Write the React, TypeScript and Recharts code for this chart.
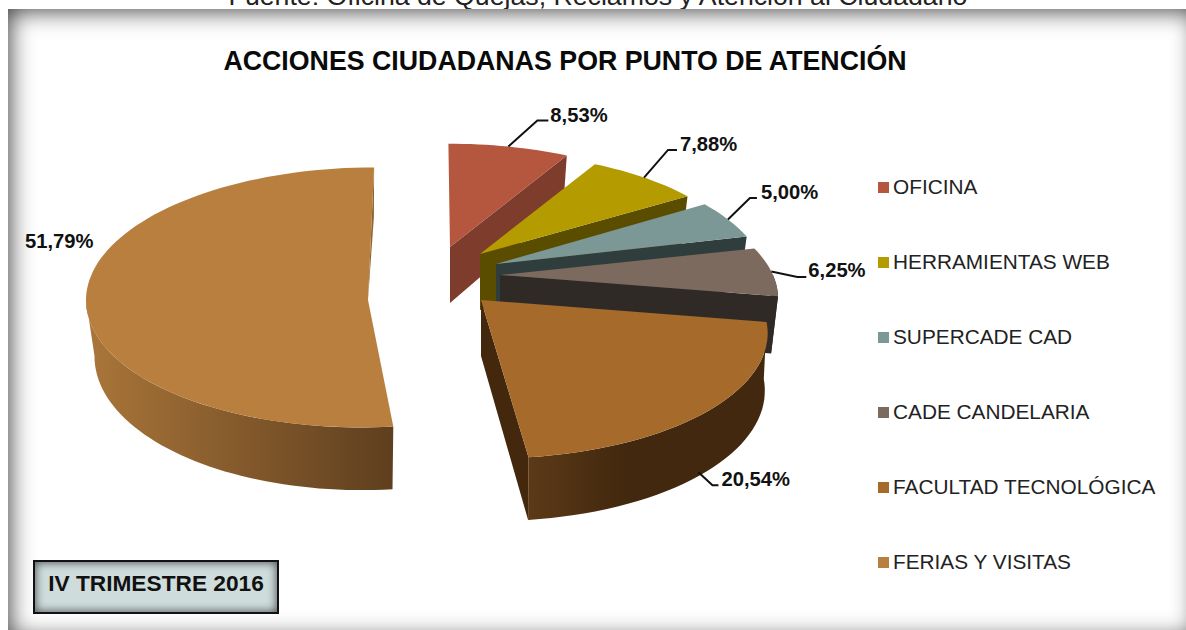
import React from "react";
import { PieChart, Pie, Legend } from "recharts";

const categories = ["OFICINA", "HERRAMIENTAS WEB", "SUPERCADE CAD", "CADE CANDELARIA", "FACULTAD TECNOLÓGICA", "FERIAS Y VISITAS"];
const shares = [8.53, 7.88, 5.0, 6.25, 20.54, 51.79];
const shareLabels = ["8,53%", "7,88%", "5,00%", "6,25%", "20,54%", "51,79%"];
const topColours = ["#b5563e", "#b39b00", "#7c9896", "#7d6a5f", "#a66b2a", "#b87f3f"];
const sideColours = ["#7e3c2d", "#5a4d00", "#2f3d3d", "#302a26", "#43280e", "#8d6331"];
const wallStops = [
  ["#7e3c2d", "#7e3c2d"],
  ["#5a4d00", "#5a4d00"],
  ["#2f3d3d", "#2f3d3d"],
  ["#302a26", "#302a26"],
  ["#5c3a18", "#42280e"],
  ["#a97539", "#5f3f1f"],
];

// Where each exploded slice sits and how its disc is foreshortened.
const slicePlacement = [
  { ax: 450, ay: 247, rx: 274, ry: 126, taper: 0.18, shear: -2, floorScale: 0.97, wx0: 0, wx1: 1 },
  { ax: 480, ay: 254, rx: 267, ry: 124, taper: 0.183, shear: 0, floorScale: 0.97, wx0: 0, wx1: 1 },
  { ax: 496, ay: 264, rx: 268, ry: 128, taper: 0.18, shear: 0, floorScale: 0.97, wx0: 0, wx1: 1 },
  { ax: 500, ay: 275, rx: 273, ry: 124, taper: 0.197, shear: 0, floorScale: 0.975, wx0: 0, wx1: 1 },
  { ax: 481, ay: 300, rx: 277, ry: 127, taper: 0.248, shear: -7, floorScale: 0.99, wx0: 527, wx1: 625 },
  { ax: 368, ay: 300, rx: 282, ry: 130, taper: -0.02, shear: 6, floorScale: 0.97, wx0: 90, wx1: 390 },
];

// Leader geometry relative to the slice rim; the last slice has a free-standing label.
const labelPlacement = [
  { startX: 0, startY: 0, elbowX: 29, elbowY: -26, endX: 40, textX: 42, textY: -32, useWall: false },
  { startX: 0, startY: 0, elbowX: 24, elbowY: -27.6, endX: 33, textX: 36, textY: -34, useWall: false },
  { startX: 0, startY: 0, elbowX: 22, elbowY: -21.5, endX: 29, textX: 33, textY: -27.5, useWall: false },
  { startX: 0, startY: 0, elbowX: 26, elbowY: 5.5, endX: 35, textX: 37, textY: -1.5, useWall: false },
  { startX: -11, startY: 2.5, elbowX: 3, elbowY: 15.5, endX: 9, textX: 12, textY: 9, useWall: true },
  { startX: 0, startY: 0, elbowX: 0, elbowY: 0, endX: 0, textX: 0, textY: 0, useWall: false, freeX: 25, freeY: 241 },
];

const DISC_DEPTH = 56;
const DEPTH_TAPER = 0.12;
const LABEL_FONT = "'Liberation Sans', Arial, sans-serif";

const rows = categories.map((name, i) => ({ name, value: shares[i], fill: topColours[i] }));

type Placement = (typeof slicePlacement)[number];

const rad = (deg: number) => (deg * Math.PI) / 180;

function rimPoint(p: Placement, clock: number, floor: boolean): [number, number] {
  const s = Math.sin(rad(clock));
  const c = Math.cos(rad(clock));
  const f = 1 - p.taper * c;
  const x = p.ax + (p.rx * s + p.shear * c) * f * (floor ? p.floorScale : 1);
  const y = p.ay - p.ry * c * f + (floor ? DISC_DEPTH * (1 - DEPTH_TAPER * c) : 0);
  return [x, y];
}

function arcPoints(p: Placement, from: number, to: number, floor: boolean) {
  const pts: [number, number][] = [];
  const steps = Math.max(2, Math.ceil(Math.abs(to - from) / 2));
  for (let i = 0; i <= steps; i++) pts.push(rimPoint(p, from + ((to - from) * i) / steps, floor));
  return pts;
}

const toPath = (pts: [number, number][]) =>
  "M" + pts.map(([x, y]) => `${x.toFixed(1)},${y.toFixed(1)}`).join("L") + "Z";

// Draws one exploded slice as a solid: outer wall, cut face, then the top.
function SolidSlice(props: any) {
  const i = categories.indexOf(props.payload?.name ?? props.name);
  const p = slicePlacement[i];
  const from = 90 - props.startAngle;
  const to = 90 - props.endAngle;
  const apex: [number, number] = [p.ax, p.ay];
  const apexFloor: [number, number] = [p.ax, p.ay + DISC_DEPTH];
  const wallFrom = Math.max(from, 90);
  const wallTo = Math.min(to, 270);
  const hasWall = wallTo > wallFrom;
  const gradId = `wall-${i}`;
  const endTop = rimPoint(p, to, false);
  const endFloor = rimPoint(p, to, true);
  const cutFace: [number, number][] =
    to > 270 ? [apex, endTop, endFloor] : [apex, endTop, endFloor, apexFloor];
  return (
    <g>
      <defs>
        <linearGradient id={gradId} gradientUnits="userSpaceOnUse" x1={p.wx0} x2={p.wx1} y1={0} y2={0}>
          <stop offset="0" stopColor={wallStops[i][0]} />
          <stop offset="1" stopColor={wallStops[i][1]} />
        </linearGradient>
      </defs>
      {hasWall && (
        <path
          d={toPath([...arcPoints(p, wallFrom, wallTo, false), ...arcPoints(p, wallTo, wallFrom, true)])}
          fill={`url(#${gradId})`}
        />
      )}
      <path d={toPath(cutFace)} fill={sideColours[i]} />
      <path d={toPath([apex, ...arcPoints(p, from, to, false)])} fill={topColours[i]} />
    </g>
  );
}

function SliceLabel(props: any) {
  const i = categories.indexOf(props.name ?? props.payload?.name);
  const p = slicePlacement[i];
  const l = labelPlacement[i];
  const textStyle = { fontFamily: LABEL_FONT, fontWeight: 700, fontSize: 20.2, fill: "#111" };
  if (l.freeX !== undefined) {
    return (
      <text x={l.freeX} y={l.freeY} dominantBaseline="central" style={textStyle}>
        {shareLabels[i]}
      </text>
    );
  }
  const [x, y] = rimPoint(p, 90 - props.midAngle, l.useWall);
  const d = `M${x + l.startX},${y + l.startY}L${x + l.elbowX},${y + l.elbowY}L${x + l.endX},${y + l.elbowY}`;
  return (
    <g>
      <path d={d} fill="none" stroke="#111" strokeWidth={2} />
      <text x={x + l.textX} y={y + l.textY} dominantBaseline="central" style={textStyle}>
        {shareLabels[i]}
      </text>
    </g>
  );
}

function LegendList({ payload }: any) {
  return (
    <div style={{ position: "relative", width: 300, height: 400 }}>
      {(payload ?? []).map((entry: any, i: number) => (
        <div key={entry.value} style={{ position: "absolute", left: 0, top: i * 75, height: 24, display: "flex", alignItems: "center" }}>
          <span style={{ width: 11, height: 11, background: entry.color, marginRight: 4 }} />
          <span style={{ fontFamily: LABEL_FONT, fontSize: 20.8, color: "#222", whiteSpace: "nowrap" }}>{entry.value}</span>
        </div>
      ))}
    </div>
  );
}

export default function App() {
  return (
    <div style={{ position: "absolute", left: 0, top: 0, width: 1186, height: 630, overflow: "hidden", background: "#fff" }}>
      <div
        style={{
          position: "absolute",
          left: 0,
          top: -19,
          width: 1196,
          textAlign: "center",
          fontFamily: LABEL_FONT,
          fontSize: 26.7,
          color: "#222",
          whiteSpace: "nowrap",
        }}
      >
        Fuente: Oficina de Quejas, Reclamos y Atención al Ciudadano
      </div>
      <div
        style={{
          position: "absolute",
          left: 8,
          top: 9,
          width: 1190,
          height: 631,
          background: "#fff",
          boxShadow: "inset 0 0 24px 1px rgba(0,0,0,0.8)",
        }}
      />
      <div
        style={{
          position: "absolute",
          left: 0,
          top: 46,
          width: 1130,
          textAlign: "center",
          fontFamily: LABEL_FONT,
          fontWeight: 700,
          fontSize: 26.75,
          color: "#0a0a0a",
          whiteSpace: "nowrap",
        }}
      >
        ACCIONES CIUDADANAS POR PUNTO DE ATENCIÓN
      </div>
      <div style={{ position: "absolute", left: 0, top: 0 }}>
        <PieChart width={1186} height={630} margin={{ top: 0, right: 0, bottom: 0, left: 0 }}>
          <Pie
            data={rows}
            dataKey="value"
            nameKey="name"
            cx={460}
            cy={300}
            outerRadius={130}
            startAngle={90}
            endAngle={-270}
            stroke="none"
            isAnimationActive={false}
            shape={SolidSlice}
            label={SliceLabel}
            labelLine={false}
          />
          <Legend
            layout="vertical"
            itemSorter={null}
            content={LegendList}
            wrapperStyle={{ position: "absolute", left: 878, top: 175, width: 300, height: 400 }}
          />
        </PieChart>
      </div>
      <div
        style={{
          position: "absolute",
          left: 33,
          top: 560,
          width: 246,
          height: 54,
          boxSizing: "border-box",
          border: "2px solid #111",
          paddingBottom: 8,
          background: "#cfdcdc",
          boxShadow: "inset 0 0 8px 1px rgba(0,0,0,0.6)",
          display: "flex",
          alignItems: "center",
          justifyContent: "center",
          fontFamily: LABEL_FONT,
          fontWeight: 700,
          fontSize: 22.7,
          color: "#111",
          whiteSpace: "nowrap",
        }}
      >
        IV TRIMESTRE 2016
      </div>
    </div>
  );
}
